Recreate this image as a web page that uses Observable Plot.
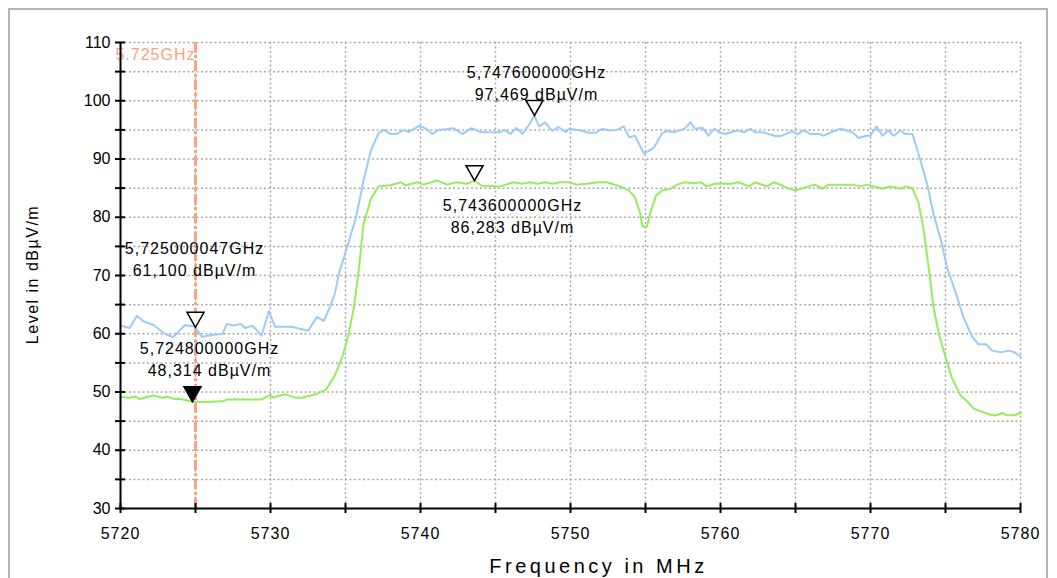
<!DOCTYPE html>
<html>
<head>
<meta charset="utf-8">
<script src="https://cdn.jsdelivr.net/npm/d3@7"></script>
<script src="https://cdn.jsdelivr.net/npm/@observablehq/plot@0.6"></script>
<style>
  html, body { margin: 0; padding: 0; background: #fff; overflow: hidden; }
  #wrap { position: relative; width: 1057px; height: 578px; }
  #frame { position: absolute; left: 8px; top: 8px; width: 1040px; height: 620px;
           border: 2px solid #b4b4b4; box-sizing: border-box; }
  #chart { position: absolute; left: 0; top: 0; }
  #chart svg { display: block; }
  g[aria-description="xtitle"] text { letter-spacing: 3.5px; }
  g[aria-description="ytitle"] text { letter-spacing: 1.5px; }
  g[aria-description="xticklabels"] text { letter-spacing: 1px; }
  g[aria-description="mlabel"] text { letter-spacing: 1px; }
  g[aria-description="freqlabel"] text { letter-spacing: 1px; }
</style>
</head>
<body>
<div id="wrap"><div id="frame"></div><div id="chart"></div></div>
<script>
// ---- data ----
const blueFreq = [5720.0,5720.6,5721.1,5721.55,5722.2,5722.9,5723.5,5724.3,5724.8,5725.0,5725.4,5726.1,5726.8,5727.1,5727.55,5728.0,5728.3,5728.8,5729.4,5729.9,5730.3,5731.4,5732.5,5733.1,5733.55,5734.0,5734.3,5734.55,5735.1,5735.7,5736.2,5736.7,5737.2,5737.55,5738.0,5738.4,5738.9,5739.2,5739.9,5740.3,5740.8,5741.2,5741.7,5742.2,5742.8,5743.4,5744.0,5744.6,5745.3,5745.6,5746.0,5746.4,5746.8,5747.2,5747.6,5747.9,5748.3,5748.8,5749.2,5749.7,5749.9,5750.7,5751.2,5751.7,5752.1,5752.6,5753.1,5753.55,5753.9,5754.3,5754.9,5755.55,5756.1,5756.4,5756.9,5757.6,5758.0,5758.3,5758.8,5759.2,5759.6,5759.9,5760.3,5761.1,5761.6,5762.0,5762.3,5762.8,5763.7,5764.1,5764.8,5765.1,5765.55,5766.0,5766.6,5766.9,5767.4,5768.0,5768.8,5769.2,5769.7,5770.0,5770.4,5770.8,5771.2,5771.55,5772.0,5772.3,5772.8,5773.3,5773.8,5774.2,5774.7,5775.1,5775.7,5776.2,5776.8,5777.2,5777.7,5778.1,5778.7,5779.2,5779.6,5780.0];
const blueLevel = [61.4,61.0,63.1,62.1,61.5,60.1,59.4,61.5,61.3,61.1,59.5,59.8,60.0,61.7,61.4,61.7,61.0,61.4,59.7,63.9,61.2,61.2,60.5,62.9,62.2,64.8,67.0,70.2,74.8,80.0,86.3,91.5,94.4,95.0,94.3,94.3,95.0,94.6,95.7,95.3,94.3,95.0,95.1,95.3,94.3,95.3,94.6,94.6,94.6,95.0,94.3,95.35,94.3,95.75,97.469,95.6,96.3,94.8,95.5,94.6,95.2,94.9,94.5,94.5,95.2,94.9,95.0,95.6,93.75,94.0,90.9,91.9,94.4,94.8,94.6,95.2,96.3,95.2,95.35,94.0,95.2,94.6,94.3,94.9,94.6,95.2,94.6,94.6,93.9,94.0,94.8,94.2,94.9,94.3,94.3,94.0,94.6,95.2,94.6,93.6,94.0,94.0,95.6,94.0,94.9,94.0,94.9,94.3,94.3,90.0,85.45,80.6,76.0,71.4,66.9,62.8,59.4,58.2,58.2,57.1,56.8,57.1,56.8,56.1];

const greenFreq = [5720.0,5720.55,5721.0,5721.3,5721.7,5722.2,5722.8,5723.1,5723.6,5724.0,5724.8,5725.5,5726.8,5727.1,5729.4,5729.9,5730.2,5731.0,5731.7,5732.1,5733.0,5733.7,5734.3,5734.8,5735.2,5735.55,5735.9,5736.2,5736.7,5737.2,5738.0,5738.7,5739.0,5739.8,5740.2,5741.1,5741.8,5742.4,5743.1,5743.6,5744.1,5745.3,5746.2,5746.8,5747.3,5747.8,5748.3,5748.8,5749.3,5749.9,5750.4,5751.1,5751.8,5752.4,5753.3,5753.9,5754.3,5754.65,5754.8,5755.1,5755.3,5755.7,5756.1,5756.7,5757.1,5757.6,5758.2,5758.7,5759.1,5759.6,5760.0,5760.7,5761.2,5761.9,5762.3,5763.1,5763.55,5764.0,5764.4,5765.0,5765.55,5766.3,5766.8,5767.2,5768.8,5769.3,5769.8,5770.8,5771.3,5772.0,5772.4,5772.8,5773.2,5773.55,5773.9,5774.2,5774.55,5775.0,5775.4,5776.0,5776.4,5776.9,5777.55,5778.1,5778.4,5778.8,5779.1,5779.6,5780.0];
const greenLevel = [49.2,49.0,49.2,48.8,49.1,49.4,49.0,49.2,48.8,48.8,48.314,48.3,48.4,48.7,48.7,49.4,49.1,49.6,49.0,49.0,49.6,50.4,52.9,56.1,59.8,64.4,71.3,78.8,83.2,85.3,85.5,86.0,85.5,86.0,85.6,86.3,85.6,86.0,85.75,86.283,85.4,85.3,86.0,85.75,86.0,85.75,86.0,85.75,86.0,86.0,85.6,85.75,86.0,86.0,85.3,84.6,83.4,80.6,78.4,78.4,80.6,83.7,84.6,84.9,85.6,86.0,85.85,86.0,85.3,85.75,85.8,85.75,86.0,85.3,86.0,85.3,86.0,85.6,85.05,84.6,85.05,85.6,84.9,85.6,85.6,85.3,85.6,84.9,85.3,84.9,85.3,84.9,82.5,77.7,70.9,64.6,60.0,56.0,52.55,49.4,48.5,47.1,46.5,46.0,46.0,46.4,46.0,46.0,46.4];

const markerFreq   = [5725.000047, 5724.8, 5747.6, 5743.6];
const markerLevel  = [61.1, 48.314, 97.469, 86.283];
const markerFilled = [false, true, false, false];
const markerLine1  = ["5,725000047GHz", "5,724800000GHz", "5,747600000GHz", "5,743600000GHz"];
const markerLine2  = ["61,100 dBµV/m", "48,314 dBµV/m", "97,469 dBµV/m", "86,283 dBµV/m"];

const limitFreq = [5725];
const limitLabel = ["5.725GHz"];

const xTicksMajor = [5720, 5730, 5740, 5750, 5760, 5770, 5780];
const xTicksAll = d3.range(5720, 5781, 5);
const yTicksMajor = [30, 40, 50, 60, 70, 80, 90, 100, 110];
const yTicksAll = d3.range(30, 111, 5);
const xGrid = d3.range(5725, 5781, 5);
const yGrid = d3.range(35, 111, 5);

const xTitle = "Frequency in MHz";
const yTitle = "Level in dBµV/m";

// ---- build ----
const blue = blueFreq.map((f, i) => ({f, v: blueLevel[i]}));
const green = greenFreq.map((f, i) => ({f, v: greenLevel[i]}));
const markers = markerFreq.map((f, i) => ({f, v: markerLevel[i], filled: markerFilled[i], text: markerLine1[i] + "\n" + markerLine2[i]}));

const triDown = {
  draw(ctx) {
    const w = 8.5, h = 15;
    ctx.moveTo(0, 0);
    ctx.lineTo(-w, -h);
    ctx.lineTo(w, -h);
    ctx.closePath();
  }
};

// label offsets (pixels) for each marker annotation
const labelOffsets = [[-1, -69], [17, -44], [2, -34], [38, 34]];

const orange = "#f8a47e";

const chart = Plot.plot({
  width: 1057,
  height: 578,
  marginLeft: 120,
  marginRight: 37,
  marginTop: 42,
  marginBottom: 70,
  style: {fontFamily: "'Liberation Sans', Arial, sans-serif", fontSize: "16px", background: "transparent", color: "#000"},
  x: {domain: [5720, 5780], type: "linear"},
  y: {domain: [30, 110]},
  marks: [
    Plot.gridY(yGrid, {stroke: "#aaaaaa", strokeOpacity: 1, strokeWidth: 1.5, strokeDasharray: "2,2.5"}),
    Plot.gridX(xGrid, {stroke: "#aaaaaa", strokeOpacity: 1, strokeWidth: 1.5, strokeDasharray: "2,2.5"}),
    Plot.ruleX(limitFreq, {x: d => d, y1: 30, y2: 110, stroke: orange, strokeWidth: 3, strokeDasharray: "10,3,3,3"}),
    Plot.text(limitFreq, {x: d => d, y: 110, text: (d, i) => limitLabel[i], textAnchor: "end", dx: 0, dy: 12, fill: orange, fontSize: 16, ariaDescription: "freqlabel"}),
    Plot.line(blue, {x: "f", y: "v", stroke: "#9ccbfb", strokeWidth: 2}),
    Plot.line(green, {x: "f", y: "v", stroke: "#96ec5c", strokeWidth: 2}),
    // axis lines
    Plot.ruleX([5720], {stroke: "#000", strokeWidth: 2}),
    Plot.ruleY([30], {stroke: "#000", strokeWidth: 2}),
    // tick marks crossing the axes
    Plot.axisY({ticks: yTicksAll, tickSize: 10, dx: 5, tickFormat: () => "", label: null, stroke: "#000", strokeWidth: 2}),
    Plot.axisX({ticks: xTicksAll, tickSize: 10, dy: -5, tickFormat: () => "", label: null, stroke: "#000", strokeWidth: 2}),
    // tick labels
    Plot.axisY({ticks: yTicksMajor, tickSize: 0, tickPadding: 10, tickFormat: d => String(d), label: null, fontSize: 16}),
    Plot.axisX({ticks: xTicksMajor, tickSize: 0, tickPadding: 19, tickFormat: d => String(d), label: null, fontSize: 16, ariaDescription: "xticklabels"}),
    // axis titles
    Plot.text([xTitle], {frameAnchor: "bottom", text: d => d, dx: 28, dy: 64, fontSize: 20, ariaDescription: "xtitle"}),
    Plot.text([yTitle], {frameAnchor: "left", text: d => d, textAnchor: "middle", dx: -88, dy: -1, rotate: -90, fontSize: 16, ariaDescription: "ytitle"}),
    // markers
    Plot.dot(markers, {x: "f", y: "v", symbol: triDown, r: 8, fill: d => d.filled ? "#000" : "#fff", stroke: "#000", strokeWidth: 1.5}),
    ...markers.map((m, i) => Plot.text([m], {x: "f", y: "v", text: "text", dx: labelOffsets[i][0], dy: labelOffsets[i][1], lineHeight: 1.375, fontSize: 16, fill: "#000", ariaDescription: "mlabel"}))
  ]
});
document.getElementById("chart").appendChild(chart);
</script>
</body>
</html>
